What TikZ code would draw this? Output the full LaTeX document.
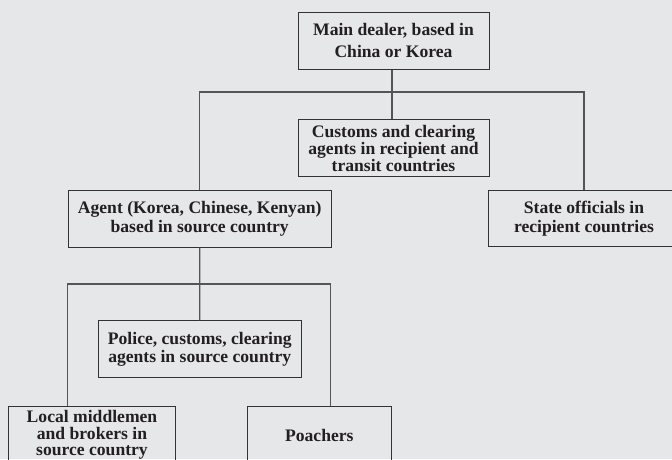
\documentclass[tikz,border=0pt]{standalone}
\usepackage{fontspec}
\setmainfont{Liberation Serif}
\definecolor{bgc}{HTML}{E6E7E9}
\definecolor{boxc}{HTML}{333333}
\definecolor{linec}{HTML}{555555}
\definecolor{txtc}{HTML}{231F20}
\tikzset{
  orgbox/.style={draw=boxc, line width=1pt, inner sep=0pt, align=center, text=txtc,
     font=\fontsize{17.6}{18}\selectfont\bfseries},
  conn/.style={draw=linec, line width=1.3pt}
}
\begin{document}
\begin{tikzpicture}[x=1pt,y=-1pt]
\fill[bgc] (0,0) rectangle (672,459);
\useasboundingbox (0,0) rectangle (672,459);
\begin{scope}
\clip (0,0) rectangle (672,459);
\node[orgbox, minimum width=191pt, minimum height=56.7pt, font=\fontsize{17.6}{21.7}\selectfont\bfseries] (main) at (393.5,40.7) {Main dealer, based in\\China or Korea};
\node[orgbox, minimum width=191pt, minimum height=56.7pt, font=\fontsize{17.6}{17.3}\selectfont\bfseries] (customs) at (393.5,148.3) {Customs and clearing\\agents in recipient and\\transit countries};
\node[orgbox, minimum width=262.7pt, minimum height=56.5pt, font=\fontsize{17.6}{18.7}\selectfont\bfseries] (agent) at (199.7,218.8) {Agent (Korea, Chinese, Kenyan)\\based in source country};
\node[orgbox, minimum width=191.4pt, minimum height=56pt, font=\fontsize{17.6}{19}\selectfont\bfseries] (state) at (584,218.7) {State officials in\\recipient countries};
\node[orgbox, minimum width=203pt, minimum height=56.7pt, font=\fontsize{17.6}{17.3}\selectfont\bfseries] (police) at (199.8,349.3) {Police, customs, clearing\\agents in source country};
\node[orgbox, minimum width=167.4pt, minimum height=56.7pt, font=\fontsize{17.6}{16.7}\selectfont\bfseries] (local) at (92,435) {Local middlemen\\and brokers in\\source country};
\node[orgbox, minimum width=144pt, minimum height=56.7pt] (poachers) at (319.3,435) {Poachers};
\coordinate (j1) at (392,92);
\coordinate (j2) at (200,284);
\draw[conn] (main.south -| j1) -- (customs.north -| j1);
\draw[conn] (agent.north) |- (j1) -| (state.north);
\draw[conn] (agent.south) -- (police.north);
\draw[conn] ([xshift=59.7pt]local.north west) |- (j2) -| ([xshift=83.7pt]poachers.north west);
\end{scope}
\end{tikzpicture}
\end{document}
